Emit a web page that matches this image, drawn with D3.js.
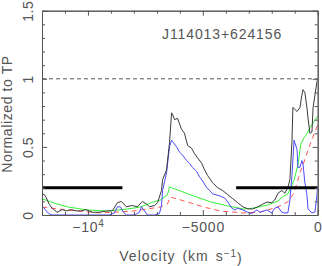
<!DOCTYPE html>
<html><head><meta charset="utf-8">
<script src="https://cdn.jsdelivr.net/npm/d3@7"></script>
<style>
html,body{margin:0;padding:0;background:#fff;}
svg{display:block;font-family:"Liberation Sans",Arial,sans-serif;}
</style></head>
<body>
<svg id="chart" width="322" height="266"></svg>
<script>
// ---- data ----
const title = "J114013+624156";
const xMajorTicks = [-10000, -5000, 0];
const xMinorTicks = [-12000,-11000,-9000,-8000,-7000,-6000,-4000,-3000,-2000,-1000];
const yMajorTicks = [0, 0.5, 1, 1.5];
const yMinorTicks = [0.1,0.2,0.3,0.4,0.6,0.7,0.8,0.9,1.1,1.2,1.3,1.4];

const velSpec = [-12000,-11900,-11820,-11690,-11560,-11340,-11120,-10950,-10730,-10510,-10290,-10080,-9810,-9510,-9200,-8940,-8720,-8550,-8330,-8070,-7850,-7630,-7450,-7320,-7100,-6970,-6800,-6750,-6580,-6450,-6360,-6320,-6230,-6100,-5930,-5800,-5660,-5490,-5360,-5230,-5050,-4920,-4790,-4570,-4350,-4140,-3920,-3700,-3480,-3260,-3040,-2830,-2610,-2390,-2210,-2000,-1870,-1730,-1560,-1430,-1300,-1210,-1120,-1080,-900,-770,-690,-640,-560,-470,-420,-340,-250,-200,-120,-30,0];
const fluxSpec = [0.15,0.15,0.13,0.08,0.05,0.02,0.04,0.03,0.04,0.03,0.03,0.04,0.02,0.02,0.03,0.03,0.09,0.10,0.06,0.07,0.06,0.10,0.08,0.06,0.07,0.09,0.18,0.26,0.33,0.53,0.75,0.74,0.70,0.71,0.63,0.60,0.51,0.49,0.45,0.42,0.38,0.33,0.29,0.235,0.20,0.18,0.15,0.12,0.09,0.06,0.045,0.045,0.06,0.08,0.095,0.09,0.11,0.16,0.18,0.16,0.20,0.26,0.54,0.79,0.76,0.79,0.88,0.92,0.90,0.79,0.71,0.60,0.61,0.79,0.88,0.98,1.0];

const velBlue = [-12000,-11900,-11820,-11690,-11560,-11250,-10810,-10380,-9940,-9510,-9070,-8850,-8720,-8590,-8460,-8330,-7980,-7760,-7670,-7540,-7410,-7100,-6890,-6800,-6750,-6580,-6450,-6360,-6320,-6140,-6010,-5880,-5710,-5580,-5450,-5270,-5140,-5010,-4830,-4700,-4570,-4260,-4050,-3910,-3740,-3610,-3480,-3260,-3040,-2870,-2650,-2520,-2210,-2000,-1870,-1730,-1560,-1430,-1300,-1210,-1120,-1030,-900,-860,-770,-690,-640,-560,-470,-420,-250,-120,-30,0];
const fluxBlue = [0.06,0.05,0.03,0.01,0,0,0,0,0,0,0,0.015,0.06,0.06,0.02,0,0,0.02,0.06,0.03,0,0,0.01,0.07,0.18,0.31,0.50,0.55,0.54,0.50,0.46,0.44,0.40,0.38,0.35,0.32,0.28,0.25,0.20,0.18,0.155,0.14,0.125,0.095,0.05,0.037,0.05,0.037,0.02,0.01,0.037,0.02,0.037,0.015,0.05,0.06,0.02,0.015,0.015,0.11,0.29,0.55,0.48,0.35,0.35,0.40,0.375,0.24,0.15,0.044,0.015,0.022,0.15,0.21];

const velGreen = [-12000,-11430,-10900,-10030,-9160,-8280,-7720,-7150,-6850,-6540,-6450,-5970,-5400,-4660,-3910,-3220,-2780,-2170,-1730,-1470,-1300,-1170,-1030,-860,-770,-730,-600,-470,-340,-200,0];
const fluxGreen = [0.12,0.085,0.06,0.037,0.029,0.044,0.059,0.096,0.11,0.147,0.206,0.176,0.14,0.096,0.066,0.044,0.051,0.074,0.103,0.14,0.154,0.199,0.257,0.368,0.478,0.522,0.566,0.596,0.64,0.676,0.728];

const velRed = [-12000,-10900,-9470,-8030,-7150,-6850,-6540,-6410,-5670,-4970,-4230,-3220,-2480,-1730,-1300,-1030,-770,-640,-340,0];
const fluxRed = [0.059,0.037,0.015,0.029,0.051,0.059,0.081,0.132,0.096,0.059,0.029,0.015,0.022,0.059,0.096,0.162,0.309,0.368,0.515,0.662];

const barSegments = [[-12000,-8500],[-3550,0]];
const barLevel = 0.2;
const refLevel = 1;

// ---- layout ----
const svg = d3.select("#chart");
const L = 42, R = 317.7, T = 10.7, B = 215;
const x = d3.scaleLinear().domain([-12000, 0]).range([L, R]);
const y = d3.scaleLinear().domain([0, 1.5]).range([B, T]);
const axisCol = "#555";

svg.append("defs").append("clipPath").attr("id","clip")
  .append("rect").attr("x",L).attr("y",T).attr("width",R-L).attr("height",B-T);

const plot = svg.append("g").attr("clip-path","url(#clip)");

// reference dashed line
plot.append("line").attr("x1",x(-12000)).attr("x2",x(0))
  .attr("y1",y(refLevel)).attr("y2",y(refLevel))
  .attr("stroke","#555").attr("stroke-width",1).attr("stroke-dasharray","4,3");

const line = (vs, fs) => d3.line().x((d,i)=>x(vs[i])).y((d,i)=>y(fs[i]))(vs);

plot.append("path").attr("d", line(velGreen, fluxGreen)).attr("fill","none")
  .attr("stroke","#33f033").attr("stroke-width",1);
plot.append("path").attr("d", line(velRed, fluxRed)).attr("fill","none")
  .attr("stroke","#ff5555").attr("stroke-width",1).attr("stroke-dasharray","5,4");
plot.append("path").attr("d", line(velBlue, fluxBlue)).attr("fill","none")
  .attr("stroke","#4a4aff").attr("stroke-width",1);
plot.append("path").attr("d", line(velSpec, fluxSpec)).attr("fill","none")
  .attr("stroke","#3a3a3a").attr("stroke-width",1);

// thick bars
plot.selectAll("line.bar").data(barSegments).enter().append("line")
  .attr("class","bar")
  .attr("x1",d=>x(d[0])).attr("x2",d=>x(d[1]))
  .attr("y1",y(barLevel)).attr("y2",y(barLevel))
  .attr("stroke","#000").attr("stroke-width",3);

// ---- axes ----
function styleAxis(g){
  g.selectAll(".domain").attr("stroke",axisCol);
  g.selectAll(".tick line").attr("stroke",axisCol);
  g.selectAll("text").attr("fill",axisCol).attr("font-size",14)
    .attr("font-family","Liberation Sans, Arial, sans-serif");
}

// bottom
const minus = "\u2212";
const gB = svg.append("g").attr("transform",`translate(0,${B})`)
  .call(d3.axisBottom(x).tickValues(xMajorTicks).tickSize(-5).tickSizeOuter(0).tickPadding(7)
    .tickFormat(d => d === -10000 ? minus + "10" : (d < 0 ? minus + Math.abs(d) : String(d))));
styleAxis(gB);
gB.selectAll("text").attr("letter-spacing",0.8);
gB.selectAll(".tick").filter(d => d === -10000).select("text")
  .append("tspan").attr("dy","-0.45em").attr("font-size",10).text("4");
svg.append("g").attr("transform",`translate(0,${B})`)
  .call(d3.axisBottom(x).tickValues(xMinorTicks).tickSize(-3).tickSizeOuter(0).tickFormat(""))
  .call(styleAxis);

// top
svg.append("g").attr("transform",`translate(0,${T})`)
  .call(d3.axisTop(x).tickValues(xMajorTicks).tickSize(-5).tickSizeOuter(0).tickFormat(""))
  .call(styleAxis);
svg.append("g").attr("transform",`translate(0,${T})`)
  .call(d3.axisTop(x).tickValues(xMinorTicks).tickSize(-3).tickSizeOuter(0).tickFormat(""))
  .call(styleAxis);

// left
const gL = svg.append("g").attr("transform",`translate(${L},0)`)
  .call(d3.axisLeft(y).tickValues(yMajorTicks).tickSize(-5).tickSizeOuter(0)
    .tickFormat(d => String(d)));
styleAxis(gL);
gL.selectAll(".tick text")
  .attr("transform","rotate(-90)").attr("text-anchor","middle")
  .attr("x",0).attr("y",-9).attr("dy",0).attr("letter-spacing",0.6);
svg.append("g").attr("transform",`translate(${L},0)`)
  .call(d3.axisLeft(y).tickValues(yMinorTicks).tickSize(-3).tickSizeOuter(0).tickFormat(""))
  .call(styleAxis);

// right
svg.append("g").attr("transform",`translate(${R},0)`)
  .call(d3.axisRight(y).tickValues(yMajorTicks).tickSize(-5).tickSizeOuter(0).tickFormat(""))
  .call(styleAxis);
svg.append("g").attr("transform",`translate(${R},0)`)
  .call(d3.axisRight(y).tickValues(yMinorTicks).tickSize(-3).tickSizeOuter(0).tickFormat(""))
  .call(styleAxis);

// titles
svg.append("text").attr("x",162).attr("y",38.5).attr("fill",axisCol)
  .attr("font-size",14).attr("letter-spacing",0.9).text(title);

const xt = svg.append("text").attr("x",181).attr("y",261).attr("text-anchor","middle")
  .attr("fill",axisCol).attr("font-size",14).attr("letter-spacing",1).attr("word-spacing",2);
xt.append("tspan").text("Velocity (km s");
xt.append("tspan").attr("dy","-0.45em").attr("font-size",10).text(minus + "1");
xt.append("tspan").attr("dy","0.45em").text(")");

svg.append("text").attr("transform","translate(12,114) rotate(-90)")
  .attr("text-anchor","middle").attr("fill",axisCol).attr("font-size",14)
  .attr("letter-spacing",0.6).text("Normalized to TP");
</script>
</body></html>
